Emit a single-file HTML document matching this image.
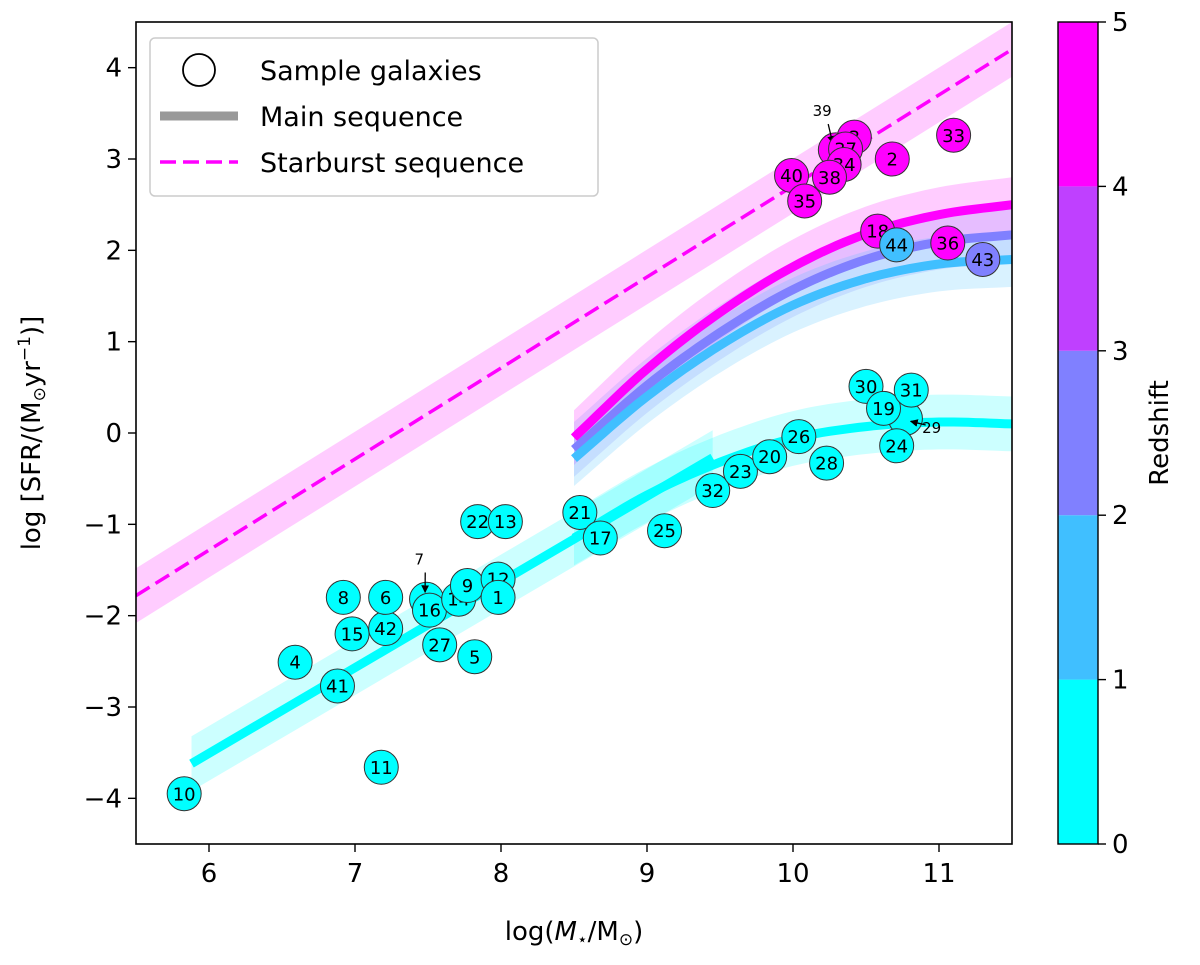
<!DOCTYPE html>
<html><head><meta charset="utf-8"><style>
body{margin:0;background:#fff}
svg{font-family:"DejaVu Sans","Liberation Sans",sans-serif}
</style></head><body>
<svg id="chart" width="1200" height="960" viewBox="0 0 1200 960" xmlns="http://www.w3.org/2000/svg">
<defs><clipPath id="plotclip"><rect x="136" y="22" width="876" height="822"/></clipPath>
<marker id="arr" viewBox="0 0 10 10" refX="9" refY="5" markerWidth="6" markerHeight="6" orient="auto"><path d="M0,0L10,5L0,10z" fill="#000"/></marker></defs>
<g id="bands" clip-path="url(#plotclip)"></g>
<g id="lines" clip-path="url(#plotclip)"></g>
<g id="points"></g>
<g id="axes"></g>
</svg>
<script>
const NS="http://www.w3.org/2000/svg";
const svg=document.getElementById('chart');
function mk(tag,attrs,parent){const e=document.createElementNS(NS,tag);for(const k in attrs)e.setAttribute(k,attrs[k]);(parent||svg).appendChild(e);return e;}
const X0=136,X1=1012,Y0=22,Y1=844,xmin=5.5,xmax=11.5,ymin=-4.5,ymax=4.5;
const sx=v=>X0+(v-xmin)/(xmax-xmin)*(X1-X0);
const sy=v=>Y1-(v-ymin)/(ymax-ymin)*(Y1-Y0);
const binColors=['#00ffff','#40bfff','#8080ff','#bf40ff','#ff00ff'];
const zcol=z=>binColors[Math.max(0,Math.min(4,Math.floor(z)))];

// Data
const galaxyIds=[10,11,41,4,15,42,8,6,7,16,27,5,14,9,12,1,22,13,21,17,25,32,23,20,26,28,30,29,19,31,24,39,3,37,34,38,40,35,2,33,18,44,36,43];
const galaxyMass=[5.83,7.18,6.88,6.59,6.98,7.21,6.92,7.21,7.49,7.51,7.58,7.82,7.71,7.77,7.98,7.98,7.84,8.03,8.54,8.68,9.12,9.45,9.64,9.84,10.04,10.23,10.5,10.77,10.62,10.81,10.71,10.29,10.42,10.36,10.35,10.25,9.99,10.08,10.68,11.1,10.58,10.71,11.06,11.3];
const galaxySFR=[-3.95,-3.66,-2.77,-2.51,-2.2,-2.14,-1.8,-1.8,-1.82,-1.94,-2.32,-2.45,-1.82,-1.67,-1.6,-1.8,-0.97,-0.97,-0.87,-1.15,-1.07,-0.63,-0.42,-0.26,-0.04,-0.33,0.51,0.16,0.27,0.47,-0.14,3.1,3.24,3.11,2.94,2.8,2.82,2.54,3.0,3.26,2.21,2.06,2.08,1.9];
const galaxyZ=[0.5,0.5,0.5,0.5,0.5,0.5,0.5,0.5,0.5,0.5,0.5,0.5,0.5,0.5,0.5,0.5,0.5,0.5,0.5,0.5,0.5,0.5,0.5,0.5,0.5,0.5,0.5,0.5,0.5,0.5,0.5,4.5,4.5,4.5,4.5,4.5,4.5,4.5,4.5,4.5,4.5,1.5,4.5,2.5];
const hiddenIds=[7,29,39];
const annotX=[7.44,10.95,10.2];
const annotY=[-1.44,0.0,3.47];

const msLowMass=[5.88,9.45];
const msLowSFR=[-3.62,-0.27];
const msHighMass=[8.5,9,9.5,10,10.5,11,11.5];
const msZ0SFR=[-1.15,-0.68,-0.32,-0.06,0.07,0.12,0.1];
const msZ15SFR=[-0.28,0.4,0.96,1.4,1.69,1.85,1.9];
const msZ25SFR=[-0.18,0.52,1.1,1.57,1.9,2.09,2.17];
const msZ45SFR=[-0.05,0.7,1.32,1.82,2.18,2.39,2.5];
const sbMass=[5.5,11.5];
const sbSFR=[-1.78,4.2];
const bandHalf=0.3;
const xTicks=[6,7,8,9,10,11];
const yTicks=[-4,-3,-2,-1,0,1,2,3,4];
const cbTicks=[0,1,2,3,4,5];

const bands=document.getElementById('bands'),lines=document.getElementById('lines'),pts=document.getElementById('points'),axes=document.getElementById('axes');
function pathOf(xs,ys,off){return xs.map((x,i)=>(i?'L':'M')+sx(x).toFixed(1)+','+sy(ys[i]+off).toFixed(1)).join('');}
function smooth(xs,ys){
  const n=ys.length,ox=[],oy=[];
  const Y=i=>i<0?2*ys[0]-ys[1]:(i>=n?2*ys[n-1]-ys[n-2]:ys[i]);
  for(let i=0;i<n-1;i++){const p0=Y(i-1),p1=Y(i),p2=Y(i+1),p3=Y(i+2);
    for(let t=0;t<1;t+=0.1){ox.push(xs[i]+(xs[i+1]-xs[i])*t);const t2=t*t,t3=t2*t;
      oy.push(0.5*(2*p1+(-p0+p2)*t+(2*p0-5*p1+4*p2-p3)*t2+(-p0+3*p1-3*p2+p3)*t3));}}
  ox.push(xs[n-1]);oy.push(ys[n-1]);return [ox,oy];}
function band(xs,ys,color,op,name){
  const up=pathOf(xs,ys,bandHalf);
  const lo=xs.map((x,i)=>[x,ys[i]]).reverse();
  const d=up+lo.map(p=>'L'+sx(p[0]).toFixed(1)+','+sy(p[1]-bandHalf).toFixed(1)).join('')+'Z';
  const e=mk('path',{d:d,fill:color,'fill-opacity':op,stroke:'none'},bands);
  
  
}
function line(xs,ys,color,w,name,dash){
  const e=mk('path',{d:pathOf(xs,ys,0),fill:'none',stroke:color,'stroke-width':w},lines);
  if(dash)e.setAttribute('stroke-dasharray',dash);
  
  
}
band(sbMass,sbSFR,'#ff00ff',0.2,'starburst-band');
line(sbMass,sbSFR,'#ff00ff',3.5,'starburst-line','16,7');
const series=[[msZ45SFR,'#ff00ff','ms-z4'],[msZ25SFR,'#8080ff','ms-z2'],[msZ15SFR,'#40bfff','ms-z1'],[msZ0SFR,'#00ffff','ms-z0-high']];
series.forEach(s=>{const [a,b]=smooth(msHighMass,s[0]);band(a,b,s[1],0.2,s[2]+'-band');});
band(msLowMass,msLowSFR,'#00ffff',0.2,'ms-z0-low-band');
series.forEach(s=>{const [a,b]=smooth(msHighMass,s[0]);line(a,b,s[1],9,s[2]+'-line');});
line(msLowMass,msLowSFR,'#00ffff',9,'ms-z0-low-line');

galaxyIds.forEach((id,i)=>{
  const g=mk('g',{},pts);
  
  
  const cx=sx(galaxyMass[i]),cy=sy(galaxySFR[i]);
  mk('circle',{cx:cx,cy:cy,r:17,fill:zcol(galaxyZ[i]),stroke:'#333','stroke-width':1},g);
  const h=hiddenIds.indexOf(id);
  if(h<0){const t=mk('text',{x:cx,y:cy+6.5,'text-anchor':'middle','font-size':18},g);t.textContent=id;}
  else{const ax=sx(annotX[h]),ay=sy(annotY[h]);
    mk('line',{x1:ax+(ax<cx?6:-6),y1:ay+(ay<cy?8:-8),x2:cx-(cx-ax)*0.2,y2:cy-(cy-ay)*0.2,stroke:'#000','stroke-width':1.3,'marker-end':'url(#arr)'},g);
    const t=mk('text',{x:ax,y:ay,'text-anchor':'middle','font-size':15},g);t.textContent=id;}
});

mk('rect',{x:X0,y:Y0,width:X1-X0,height:Y1-Y0,fill:'none',stroke:'#000','stroke-width':1.6},axes);
xTicks.forEach(v=>{const g=mk('g',{},axes);
  mk('line',{x1:sx(v),x2:sx(v),y1:Y1,y2:Y1+8,stroke:'#000','stroke-width':1.4},g);
  const t=mk('text',{x:sx(v),y:Y1+38,'text-anchor':'middle','font-size':26},g);t.textContent=v;});
yTicks.forEach(v=>{const g=mk('g',{},axes);
  mk('line',{x1:X0-8,x2:X0,y1:sy(v),y2:sy(v),stroke:'#000','stroke-width':1.4},g);
  const t=mk('text',{x:X0-14,y:sy(v)+9,'text-anchor':'end','font-size':26},g);t.textContent=(v<0?'\u2212'+(-v):v);});
const xl=mk('text',{x:574,y:940,'text-anchor':'middle','font-size':26},axes);

xl.innerHTML='log(<tspan font-style="italic">M</tspan><tspan font-size="17" dy="5">\u22c6</tspan><tspan dy="-5">/M</tspan><tspan font-size="17" dy="5">\u2299</tspan><tspan dy="-5">)</tspan>';
const yl=mk('text',{x:0,y:0,'text-anchor':'middle','font-size':26,transform:'translate(40,433) rotate(-90)'},axes);

yl.innerHTML='log [SFR/(M<tspan font-size="17" dy="5">\u2299</tspan><tspan dy="-5">yr</tspan><tspan font-size="17" dy="-10">\u22121</tspan><tspan dy="10">)]</tspan>';

const CB0=1058,CBW=40;
const cby=v=>Y1-v/5*(Y1-Y0);
binColors.forEach((c,i)=>{const r=mk('rect',{x:CB0,y:cby(i+1),width:CBW,height:cby(i)-cby(i+1),fill:c},axes);
  });
mk('rect',{x:CB0,y:Y0,width:CBW,height:Y1-Y0,fill:'none',stroke:'#000','stroke-width':1.4},axes);
cbTicks.forEach(v=>{mk('line',{x1:CB0+CBW,x2:CB0+CBW+8,y1:cby(v),y2:cby(v),stroke:'#000','stroke-width':1.4},axes);
  const t=mk('text',{x:CB0+CBW+14,y:cby(v)+9,'font-size':26},axes);t.textContent=v;
  });
const cl=mk('text',{x:0,y:0,'text-anchor':'middle','font-size':26,transform:'translate(1168,433) rotate(-90)'},axes);
cl.textContent='Redshift';

const lg=mk('g',{},axes);
mk('rect',{x:150,y:38,width:448,height:158,rx:5,fill:'#fff','fill-opacity':0.85,stroke:'#ccc','stroke-width':1.5},lg);
const e1=mk('g',{},lg);
mk('circle',{cx:199,cy:70,r:16,fill:'none',stroke:'#000','stroke-width':1.8},e1);
let t=mk('text',{x:260,y:80,'font-size':27},e1);t.textContent='Sample galaxies';
const e2=mk('g',{},lg);
mk('line',{x1:160,x2:238,y1:116,y2:116,stroke:'#999','stroke-width':9},e2);
t=mk('text',{x:260,y:126,'font-size':27},e2);t.textContent='Main sequence';
const e3=mk('g',{},lg);
mk('line',{x1:160,x2:238,y1:162,y2:162,stroke:'#ff00ff','stroke-width':3.5,'stroke-dasharray':'16,7'},e3);
t=mk('text',{x:260,y:172,'font-size':27},e3);t.textContent='Starburst sequence';
</script>
</body></html>
